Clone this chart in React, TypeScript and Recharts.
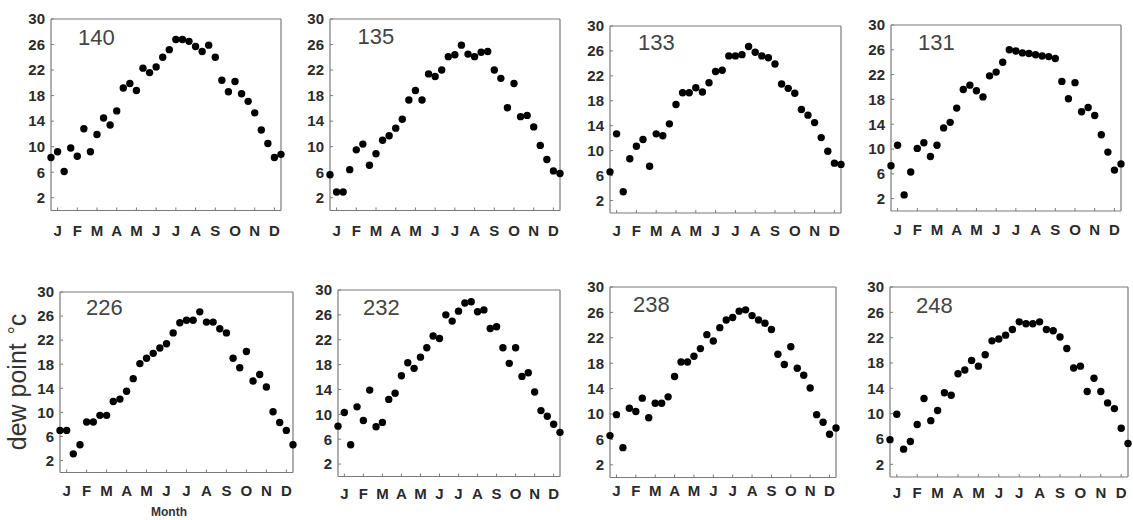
import React from 'react';
import { ScatterChart, Scatter, XAxis, YAxis } from 'recharts';

const dekads = [1, 2, 3, 4, 5, 6, 7, 8, 9, 10, 11, 12, 13, 14, 15, 16, 17, 18, 19, 20, 21, 22, 23, 24, 25, 26, 27, 28, 29, 30, 31, 32, 33, 34, 35, 36];
const monthTicks = [2, 5, 8, 11, 14, 17, 20, 23, 26, 29, 32, 35];
const monthLabels = ['J', 'F', 'M', 'A', 'M', 'J', 'J', 'A', 'S', 'O', 'N', 'D'];
const yTicks = [2, 6, 10, 14, 18, 22, 26, 30];

const s140 = [8.3, 9.2, 6.1, 9.8, 8.5, 12.8, 9.2, 11.9, 14.5, 13.4, 15.6, 19.2, 19.9, 18.8, 22.3, 21.6, 22.5, 24.0, 25.2, 26.8, 26.8, 26.5, 25.7, 24.9, 25.9, 24.0, 20.4, 18.6, 20.2, 18.3, 17.1, 15.3, 12.6, 10.5, 8.3, 8.8];
const s135 = [5.6, 2.9, 2.9, 6.4, 9.5, 10.4, 7.1, 8.9, 11.0, 11.7, 12.9, 14.3, 17.3, 18.8, 17.3, 21.4, 21.0, 22.0, 24.1, 24.4, 25.9, 24.5, 24.1, 24.8, 24.9, 22.0, 20.7, 16.1, 19.9, 14.7, 14.9, 13.1, 10.2, 8.0, 6.2, 5.8];
const s133 = [6.6, 12.7, 3.4, 8.7, 10.7, 11.8, 7.5, 12.7, 12.4, 14.3, 17.4, 19.3, 19.3, 20.1, 19.4, 20.9, 22.7, 22.9, 25.2, 25.2, 25.4, 26.7, 25.8, 25.2, 24.9, 23.9, 20.7, 20.0, 19.2, 16.6, 15.7, 14.5, 12.1, 9.9, 8.0, 7.8];
const s131 = [7.3, 10.6, 2.6, 6.3, 10.1, 11.0, 8.8, 10.6, 13.4, 14.3, 16.6, 19.6, 20.3, 19.4, 18.4, 21.8, 22.4, 24.0, 26.0, 25.8, 25.5, 25.4, 25.2, 25.0, 24.9, 24.6, 20.9, 18.1, 20.7, 16.0, 16.7, 15.4, 12.3, 9.5, 6.6, 7.6];
const s226 = [7.0, 7.0, 3.1, 4.6, 8.4, 8.4, 9.5, 9.5, 11.8, 12.2, 13.5, 15.6, 18.1, 19.0, 19.8, 20.7, 21.4, 23.2, 24.9, 25.3, 25.3, 26.7, 25.0, 25.0, 23.9, 23.2, 19.0, 17.4, 20.1, 15.2, 16.3, 14.2, 10.1, 8.3, 7.0, 4.6];
const s232 = [8.1, 10.3, 5.1, 11.2, 9.0, 13.9, 8.0, 8.7, 12.4, 13.4, 16.2, 18.3, 17.4, 19.2, 20.7, 22.6, 22.2, 26.0, 25.0, 26.6, 27.9, 28.1, 26.5, 26.8, 23.8, 24.1, 20.7, 18.2, 20.7, 16.1, 16.7, 13.6, 10.6, 9.7, 8.4, 7.1];
const s238 = [6.6, 9.9, 4.7, 10.9, 10.4, 12.5, 9.4, 11.7, 11.7, 12.7, 15.9, 18.2, 18.2, 19.1, 20.3, 22.5, 21.5, 23.6, 24.8, 25.2, 26.2, 26.4, 25.5, 24.8, 24.3, 23.3, 19.4, 17.8, 20.6, 17.2, 16.1, 14.1, 9.9, 8.7, 6.8, 7.8];
const s248 = [5.9, 9.9, 4.4, 5.6, 8.3, 12.4, 8.9, 10.5, 13.3, 12.9, 16.3, 16.9, 18.4, 17.5, 19.3, 21.5, 21.8, 22.4, 23.3, 24.5, 24.2, 24.2, 24.5, 23.3, 23.1, 22.1, 20.3, 17.2, 17.5, 13.5, 15.6, 13.5, 11.7, 10.8, 7.7, 5.3];

const stationNames = ['140', '135', '133', '131', '226', '232', '238', '248'];
const stationValues = [s140, s135, s133, s131, s226, s232, s238, s248];

// panel frames (layout only)
const frames = [
  { left: 51, top: 18.5, right: 281, bottom: 210, tx: 78, ty: 45, lab: 20 },
  { left: 330, top: 18.5, right: 560, bottom: 210, tx: 357.5, ty: 43.5, lab: 20 },
  { left: 610, top: 25.5, right: 841, bottom: 212.5, tx: 638, ty: 50, lab: 17.5 },
  { left: 891, top: 25, right: 1121, bottom: 211, tx: 918, ty: 49.5, lab: 19 },
  { left: 60, top: 291.5, right: 293, bottom: 472, tx: 86, ty: 315, lab: 18 },
  { left: 338, top: 290, right: 560, bottom: 476.5, tx: 363, ty: 315, lab: 17 },
  { left: 610, top: 286.5, right: 836, bottom: 477, tx: 633, ty: 312, lab: 13.5 },
  { left: 890, top: 287, right: 1128, bottom: 477, tx: 916, ty: 313, lab: 16 },
];

const FONT = '"Liberation Sans", Arial, Helvetica, sans-serif';
const AXIS = '#7a7a7a';
const TXT = '#2a2a2a';

const ML = 40;
const MT = 8;
const MR = 8;
const MB = 34;

const Dot = (p: any) => <circle cx={p.cx} cy={p.cy} r={3.7} fill="#000" />;

function Panel({ idx }: { idx: number }) {
  const f = frames[idx];
  const values = stationValues[idx];
  const data = dekads.map((d, i) => ({ x: d, y: values[i] }));
  const w = f.right - f.left;
  const h = f.bottom - f.top;
  const W = w + ML + MR;
  const H = h + MT + MB;
  const tickStyle = { fontSize: 15, fill: TXT, fontWeight: 'bold', fontFamily: FONT };
  return (
    <div style={{ position: 'absolute', left: f.left - ML, top: f.top - MT, width: W, height: H }}>
      <ScatterChart width={W} height={H} margin={{ top: 0, right: 0, bottom: 0, left: 0 }}>
        <XAxis
          xAxisId="b"
          type="number"
          dataKey="x"
          domain={[1, 36]}
          ticks={monthTicks}
          interval={0}
          tickFormatter={(v: number) => monthLabels[monthTicks.indexOf(v)]}
          height={MB}
          tickSize={-3}
          tickMargin={f.lab - 2.5}
          axisLine={{ stroke: AXIS, strokeWidth: 1.2 }}
          tickLine={{ stroke: AXIS }}
          tick={tickStyle}
        />
        <XAxis
          xAxisId="t"
          orientation="top"
          type="number"
          domain={[1, 36]}
          ticks={monthTicks}
          interval={0}
          height={MT}
          tickSize={-3}
          axisLine={{ stroke: AXIS, strokeWidth: 1.2 }}
          tickLine={{ stroke: AXIS }}
          tick={false}
        />
        <YAxis
          yAxisId="l"
          type="number"
          dataKey="y"
          domain={[0, 30]}
          ticks={yTicks}
          interval={0}
          width={ML}
          tickSize={-3}
          tickMargin={9}
          axisLine={{ stroke: AXIS, strokeWidth: 1.2 }}
          tickLine={{ stroke: AXIS }}
          tick={tickStyle}
        />
        <YAxis
          yAxisId="r"
          orientation="right"
          type="number"
          domain={[0, 30]}
          ticks={yTicks}
          interval={0}
          width={MR}
          tickSize={-3}
          axisLine={{ stroke: AXIS, strokeWidth: 1.2 }}
          tickLine={{ stroke: AXIS }}
          tick={false}
        />
        <Scatter data={data} xAxisId="b" yAxisId="l" fill="#000" shape={Dot} isAnimationActive={false} />
      </ScatterChart>
    </div>
  );
}

export default function App() {
  return (
    <div style={{ position: 'absolute', left: 0, top: 0, width: 1133, height: 520, background: '#fff', overflow: 'hidden' }}>
      {frames.map((_, i) => (
        <Panel key={i} idx={i} />
      ))}
      <svg width={1133} height={520} style={{ position: 'absolute', left: 0, top: 0, pointerEvents: 'none' }}>
        {frames.map((f, i) => (
          <text key={i} x={f.tx} y={f.ty} fontSize={22} fill="#444" fontFamily={FONT}>
            {stationNames[i]}
          </text>
        ))}
        <text transform="translate(26,382) rotate(-90)" textAnchor="middle" fontSize={25} fill="#333" fontFamily={FONT}>
          dew point<tspan dx={9} dy={-3} fontSize={20}>°</tspan><tspan dy={3} fontSize={25}>c</tspan>
        </text>
        <text x={169} y={516} textAnchor="middle" fontSize={12} fontWeight="bold" fill="#333" fontFamily={FONT}>
          Month
        </text>
      </svg>
    </div>
  );
}
